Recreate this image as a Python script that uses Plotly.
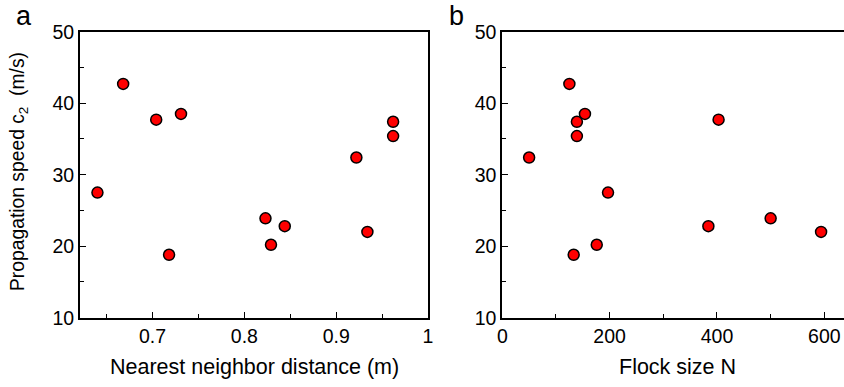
import plotly.graph_objects as go

# Data
speed_c2 = [27.5, 42.7, 37.7, 38.5, 18.8, 23.9, 20.2, 22.8, 32.4, 22.0, 37.4, 35.4]
nn_distance = [0.640, 0.668, 0.704, 0.731, 0.718, 0.823, 0.829, 0.844, 0.922, 0.934, 0.962, 0.962]
flock_size = [197, 125, 403, 154, 133, 500, 176, 384, 50, 594, 139, 139]

x1_ticks = [0.7, 0.8, 0.9, 1.0]
x1_ticktext = ["0.7", "0.8", "0.9", "1"]
x2_ticks = [0, 200, 400, 600]
y_ticks = [10, 20, 30, 40, 50]

W, H = 844, 387
FONT = "Liberation Sans, Arial, Helvetica, sans-serif"

def px(x):
    return x / W

def py(y):
    return 1 - y / H

top, bottom = 31.7, 317.7

marker = dict(size=11, color="#FF0000", line=dict(color="black", width=1.5))

fig = go.Figure()
fig.add_trace(go.Scatter(x=nn_distance, y=speed_c2, mode="markers", marker=marker,
                         xaxis="x", yaxis="y", showlegend=False, cliponaxis=False))
fig.add_trace(go.Scatter(x=flock_size, y=speed_c2, mode="markers", marker=marker,
                         xaxis="x2", yaxis="y2", showlegend=False, cliponaxis=False))

axis_common = dict(showgrid=False, zeroline=False, showline=True, linecolor="black",
                   linewidth=2, ticks="inside", ticklen=6, tickwidth=1.2, tickcolor="black",
                   automargin=False,
                   tickfont=dict(family=FONT, size=19.5, color="black"))

fig.update_layout(
    width=W, height=H,
    margin=dict(l=0, r=0, t=0, b=0, autoexpand=False),
    paper_bgcolor="white", plot_bgcolor="white",
    font=dict(family=FONT, color="black"),
    xaxis=dict(domain=[px(80), px(428)], range=[0.621, 1.0], anchor="y",
               tickvals=x1_ticks, ticktext=x1_ticktext, mirror=True,
               minor=dict(dtick=0.05, tick0=0.6, ticks="inside", ticklen=3.5, tickcolor="black", tickwidth=1.2),
               **axis_common),
    yaxis=dict(domain=[py(bottom), py(top)], range=[10, 50], anchor="x",
               tickvals=y_ticks, mirror=True,
               minor=dict(dtick=5, tick0=0, ticks="inside", ticklen=3.5, tickcolor="black", tickwidth=1.2),
               **axis_common),
    xaxis2=dict(domain=[px(502.3), 1.0], range=[0, 636.7], anchor="y2",
                tickvals=x2_ticks, mirror=True,
                minor=dict(dtick=100, tick0=0, ticks="inside", ticklen=3.5, tickcolor="black", tickwidth=1.2),
                **axis_common),
    yaxis2=dict(domain=[py(bottom), py(top)], range=[10, 50], anchor="x2",
                tickvals=y_ticks, mirror=False,
                minor=dict(dtick=5, tick0=0, ticks="inside", ticklen=3.5, tickcolor="black", tickwidth=1.2),
                **axis_common),
)

ann_font = dict(family=FONT, size=21.5, color="black")
fig.add_annotation(text="Nearest neighbor distance (m)", x=px(254), y=py(367), xref="paper", yref="paper",
                   showarrow=False, font=ann_font, xanchor="center", yanchor="middle")
fig.add_annotation(text="Flock size N", x=px(677), y=py(367), xref="paper", yref="paper",
                   showarrow=False, font=ann_font, xanchor="center", yanchor="middle")
fig.add_annotation(text="Propagation speed c<sub>2</sub>  (m/s)", x=px(19), y=py(172), xref="paper", yref="paper",
                   showarrow=False, font=dict(family=FONT, size=19.3, color="black"), textangle=-90,
                   xanchor="center", yanchor="middle")
fig.add_annotation(text="a", x=px(24), y=py(16), xref="paper", yref="paper",
                   showarrow=False, font=dict(family=FONT, size=27, color="black"), xanchor="center", yanchor="middle")
fig.add_annotation(text="b", x=px(457), y=py(16), xref="paper", yref="paper",
                   showarrow=False, font=dict(family=FONT, size=27, color="black"), xanchor="center", yanchor="middle")

fig.write_html("out.html")
